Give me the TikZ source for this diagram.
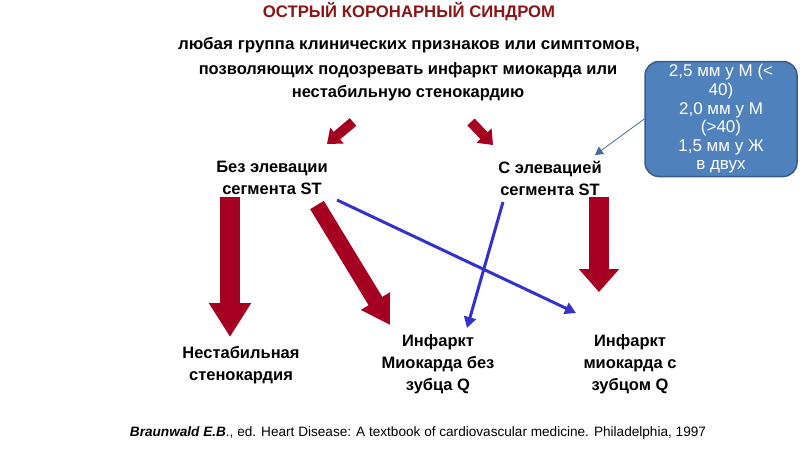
\documentclass[tikz,border=0pt]{standalone}
\usepackage{fontspec}
\setmainfont{Liberation Sans}
\usetikzlibrary{arrows.meta}
\definecolor{arrred}{RGB}{165,0,33}
\definecolor{titlered}{RGB}{139,20,20}
\definecolor{lineblue}{RGB}{51,51,204}
\definecolor{boxfill}{RGB}{79,129,189}
\definecolor{boxedge}{RGB}{56,93,138}
\definecolor{callline}{RGB}{74,105,160}
\tikzset{
  txt/.style={font=\fontsize{16.5}{22}\selectfont\bfseries, align=center, inner sep=0pt},
  bigarrow/.style={arrred, line width=#1},
  bluearrow/.style={lineblue, line width=3pt, -{Triangle[width=12pt,length=11pt]}},
  callbox/.style={fill=boxfill, draw=boxedge, line width=1.5pt, rounded corners=14pt,
     minimum width=152pt, minimum height=115pt, inner sep=0pt, text=white,
     font=\fontsize{17}{18.6}\selectfont, align=center},
}
\begin{document}
\begin{tikzpicture}[x=1pt,y=-1pt]
\useasboundingbox (0,0) rectangle (800,450);
% title
\node[inner sep=0pt, text=titlered, font=\fontsize{16.7}{20}\selectfont\bfseries] (title) at (409,12)
  {\scalebox{1.0}[1]{ОСТРЫЙ КОРОНАРНЫЙ СИНДРОМ}};
% definition
\node[txt] (d1) at (409,45) {\scalebox{1.03}[1]{любая группа клинических признаков или симптомов,}};
\node[txt] (d2) at (408,70) {позволяющих подозревать инфаркт миокарда или};
\node[txt] (d3) at (408,93) {нестабильную стенокардию};
% middle
\node[txt] (nste) at (272,178) {Без элевации\\сегмента ST};
\node[txt] (ste) at (550,178) {С элевацией\\сегмента ST};
% bottom
\node[txt] (ua) at (241,365) {Нестабильная\\стенокардия};
\node[txt] (nq) at (438,364) {Инфаркт\\Миокарда без\\зубца Q};
\node[txt] (qmi) at (630,364) {Инфаркт\\миокарда с\\зубцом Q};
% callout
\node[callbox] (cb) at (721,119) {2,5 мм у М (<\\40)\\2,0 мм у М\\(>40)\\1,5 мм у Ж\\в двух};
% coordinates
\coordinate (s1a) at (353,122); \coordinate (s1b) at (327,144);
\coordinate (s2a) at (471,122); \coordinate (s2b) at (493,145);
\coordinate (l1a) at (230,197); \coordinate (l1b) at (230,337);
\coordinate (r1a) at (599,197); \coordinate (r1b) at (599,292);
\coordinate (dga) at (317,205); \coordinate (dgb) at (390,325);
\coordinate (b1a) at (337,200); \coordinate (b1b) at (576,313);
\coordinate (b2a) at (503,202); \coordinate (b2b) at (467,328);
\coordinate (cbt) at (595,155);
% red arrows
\draw[bigarrow=10pt, -{Triangle[width=20pt,length=13pt]}] (s1a) -- (s1b);
\draw[bigarrow=10pt, -{Triangle[width=20pt,length=13pt]}] (s2a) -- (s2b);
\draw[bigarrow=20pt, -{Triangle[width=40pt,length=34pt]}] (l1a) -- (l1b);
\draw[bigarrow=20pt, -{Triangle[width=39pt,length=23pt]}] (r1a) -- (r1b);
\draw[bigarrow=16pt, -{Triangle[width=32pt,length=28pt]}] (dga) -- (dgb);
% blue arrows
\draw[bluearrow] (b1a) -- (b1b);
\draw[bluearrow] (b2a) -- (b2b);
% callout pointer
\draw[callline, line width=0.8pt, -{Triangle[width=9pt,length=8pt]}] (cb.west |- 0,119) -- (cbt);
% citation
\node[inner sep=0pt, font=\fontsize{13.6}{15}\selectfont] (cite) at (418,433)
  {\textbf{\textit{Braunwald E.B}}., ed. Heart Disease: A textbook of cardiovascular medicine. Philadelphia, 1997};
\end{tikzpicture}
\end{document}
